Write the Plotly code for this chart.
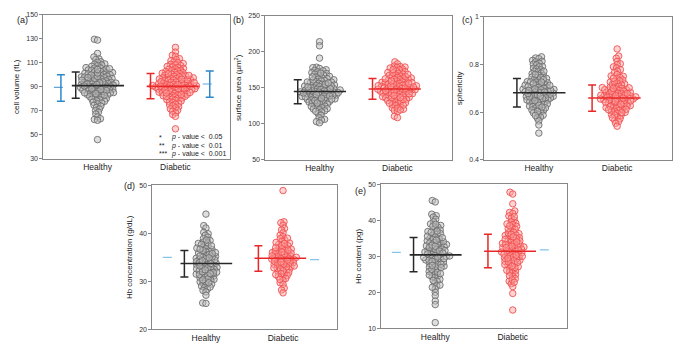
import math
import plotly.graph_objects as go

W, H = 692, 349
FONT = "Liberation Sans, Arial, sans-serif"

groups = ["Healthy", "Diabetic"]

# ---------------- per-cell measurements ----------------
vol_healthy = [129.6, 128.9, 117.8, 114.9, 113.2, 112.7, 110.9, 110.4, 109.1, 108.8, 108.2, 107.5,
               107.1, 106.0, 105.7, 105.6, 104.9, 104.1, 103.8, 103.3, 102.9, 102.4, 101.9, 101.7,
               101.2, 100.8, 100.3, 100.1, 99.6, 99.4, 98.9, 98.3, 98.1, 97.6, 97.2, 97.0, 96.4,
               96.1, 95.8, 95.2, 95.0, 94.6, 94.3, 93.7, 93.5, 93.1, 92.8, 92.6, 92.0, 91.7, 91.4,
               91.1, 90.6, 90.3, 90.1, 89.8, 89.3, 89.0, 88.7, 88.2, 88.0, 87.5, 87.3, 86.8, 86.4,
               86.1, 85.7, 85.2, 84.8, 84.6, 84.0, 83.6, 83.2, 82.7, 82.4, 81.8, 81.3, 80.9, 80.2,
               79.7, 79.1, 78.4, 77.9, 77.2, 76.5, 75.8, 74.6, 73.9, 72.8, 71.5, 70.2, 68.9, 67.3,
               65.0, 63.4, 62.8, 62.1, 46.0, 94.0, 92.3, 90.8, 89.6, 88.5, 96.9, 98.6, 86.9, 85.0,
               99.9, 101.5, 84.3, 93.3, 91.9, 87.7, 95.5, 83.0, 104.5, 97.8, 105.1]
vol_diabetic = [122.8, 118.9, 116.3, 115.4, 113.5, 112.6, 111.8, 110.7, 110.2, 109.4, 108.7, 108.3,
                107.6, 107.0, 106.5, 106.1, 105.3, 104.9, 104.6, 103.8, 103.5, 103.1, 102.7, 102.0,
                101.8, 101.3, 100.9, 100.5, 100.0, 99.7, 99.3, 99.0, 98.6, 98.2, 97.9, 97.4, 97.1,
                96.8, 96.5, 96.0, 95.7, 95.3, 95.1, 94.8, 94.4, 94.0, 93.8, 93.3, 93.0, 92.7, 92.4,
                92.1, 91.9, 91.5, 91.2, 90.8, 90.6, 90.3, 90.0, 89.7, 89.4, 89.1, 88.8, 88.4, 88.1,
                87.9, 87.6, 87.2, 86.9, 86.5, 86.2, 85.8, 85.5, 85.1, 84.7, 84.4, 84.0, 83.7, 83.2,
                82.8, 82.5, 82.0, 81.6, 81.1, 80.7, 80.3, 79.8, 79.2, 78.7, 78.1, 77.5, 76.9, 76.2,
                75.6, 74.8, 74.1, 73.3, 72.5, 71.6, 70.4, 69.6, 68.3, 66.9, 65.4, 55.0, 91.0, 89.9,
                88.9, 92.9, 94.2, 95.9, 86.7, 85.3, 97.5, 99.5, 83.5, 90.5, 87.4, 93.6, 101.0, 81.9,
                96.3, 88.6, 91.7, 84.9]

area_healthy = [214.0, 208.3, 191.2, 178.6, 177.9, 176.8, 175.1, 174.3, 173.6, 172.2, 171.0, 169.8,
                168.9, 167.7, 166.5, 165.8, 164.6, 163.9, 162.8, 162.0, 161.1, 160.3, 159.5, 158.6,
                157.9, 157.0, 156.2, 155.6, 154.7, 153.9, 153.2, 152.4, 151.7, 150.9, 150.2, 149.6,
                148.9, 148.1, 147.5, 146.8, 146.2, 145.5, 144.9, 144.3, 143.6, 143.0, 142.4, 141.7,
                141.1, 140.5, 139.8, 139.2, 138.5, 137.9, 137.2, 136.6, 135.9, 135.2, 134.6, 133.8,
                133.1, 132.4, 131.6, 130.9, 130.1, 129.2, 128.4, 127.5, 126.6, 125.7, 124.6, 123.5,
                122.3, 121.0, 119.6, 118.1, 116.4, 114.2, 112.0, 108.3, 106.2, 105.1, 103.0, 101.4,
                150.5, 147.0, 145.8, 144.0, 141.9, 139.5, 137.5, 142.8, 146.5, 152.8, 155.0, 158.0,
                135.5, 132.0, 128.9, 140.8, 148.5, 143.3, 138.8, 151.2, 160.8, 165.2, 170.4, 124.0,
                120.5, 117.3, 134.2, 156.8]
area_diabetic = [186.0, 183.2, 180.1, 179.4, 178.8, 178.2, 177.5, 176.0, 174.8, 173.5, 172.6, 171.3,
                 170.2, 169.1, 168.0, 167.2, 166.1, 165.3, 164.4, 163.6, 162.8, 162.0, 161.2, 160.5,
                 159.7, 159.0, 158.3, 157.6, 156.9, 156.1, 155.4, 154.8, 154.1, 153.4, 152.8, 152.1,
                 151.5, 150.8, 150.2, 149.6, 149.0, 148.4, 147.8, 147.1, 146.5, 145.9, 145.2, 144.6,
                 143.9, 143.2, 142.6, 141.9, 141.2, 140.5, 139.8, 139.0, 138.3, 137.5, 136.7, 135.9,
                 135.0, 134.1, 133.2, 132.3, 131.3, 130.2, 129.1, 127.9, 126.6, 125.2, 123.8, 122.1,
                 120.3, 118.6, 116.9, 110.5, 108.6, 150.5, 148.0, 146.0, 153.0, 157.2, 161.8, 144.4,
                 141.6, 138.9, 155.7, 165.8, 170.8, 135.6, 130.7, 128.5, 142.2, 147.3, 152.6, 159.4,
                 162.4, 125.8, 121.5, 133.8, 175.3, 168.6, 145.6, 151.1, 149.4, 156.4, 139.4, 136.3,
                 119.2]

spher_healthy = [0.832, 0.827, 0.824, 0.817, 0.813, 0.811, 0.805, 0.801, 0.798, 0.792, 0.790, 0.784,
                 0.781, 0.777, 0.771, 0.769, 0.763, 0.761, 0.755, 0.753, 0.747, 0.744, 0.741, 0.736,
                 0.734, 0.728, 0.726, 0.723, 0.718, 0.716, 0.711, 0.710, 0.705, 0.704, 0.700, 0.696,
                 0.695, 0.690, 0.689, 0.686, 0.682, 0.680, 0.676, 0.674, 0.671, 0.666, 0.665, 0.660,
                 0.659, 0.655, 0.651, 0.650, 0.645, 0.644, 0.639, 0.637, 0.632, 0.631, 0.625, 0.623,
                 0.617, 0.615, 0.609, 0.607, 0.600, 0.597, 0.590, 0.587, 0.579, 0.575, 0.563, 0.546,
                 0.512, 0.702, 0.688, 0.675, 0.661, 0.694, 0.713, 0.727, 0.745, 0.654, 0.642, 0.629,
                 0.681, 0.669, 0.708, 0.719, 0.737, 0.758, 0.771, 0.634, 0.618, 0.603, 0.586, 0.692,
                 0.684, 0.673, 0.664, 0.648, 0.698, 0.712, 0.726, 0.678, 0.657, 0.691, 0.667, 0.621]
spher_diabetic = [0.865, 0.835, 0.826, 0.813, 0.803, 0.799, 0.790, 0.785, 0.778, 0.772, 0.766, 0.758,
                  0.752, 0.750, 0.745, 0.740, 0.735, 0.731, 0.726, 0.722, 0.718, 0.714, 0.710, 0.707,
                  0.703, 0.700, 0.697, 0.694, 0.691, 0.688, 0.685, 0.682, 0.679, 0.677, 0.674, 0.671,
                  0.668, 0.666, 0.663, 0.660, 0.658, 0.655, 0.652, 0.650, 0.647, 0.644, 0.642, 0.639,
                  0.636, 0.633, 0.630, 0.627, 0.624, 0.621, 0.618, 0.615, 0.611, 0.607, 0.603, 0.599,
                  0.595, 0.590, 0.585, 0.579, 0.572, 0.566, 0.560, 0.553, 0.541, 0.668, 0.657, 0.646,
                  0.675, 0.683, 0.692, 0.705, 0.716, 0.638, 0.626, 0.612, 0.598, 0.662, 0.651, 0.671,
                  0.687, 0.699, 0.729, 0.742, 0.633, 0.619, 0.605, 0.588, 0.576, 0.655, 0.664, 0.679,
                  0.641, 0.624, 0.610, 0.702, 0.694, 0.659, 0.647, 0.669]

hbc_healthy = [44.0, 41.6, 41.1, 40.2, 39.9, 39.6, 39.2, 38.9, 38.5, 38.2, 37.9, 37.6, 37.3, 37.1,
               36.8, 36.6, 36.3, 36.1, 35.9, 35.7, 35.4, 35.2, 35.0, 34.8, 34.6, 34.4, 34.2, 34.0,
               33.8, 33.6, 33.5, 33.3, 33.1, 32.9, 32.7, 32.5, 32.3, 32.1, 31.9, 31.7, 31.5, 31.3,
               31.1, 30.9, 30.7, 30.4, 30.2, 29.9, 29.6, 29.3, 29.0, 28.7, 28.4, 28.1, 27.8, 27.1,
               25.5, 25.4, 33.4, 33.0, 32.6, 34.1, 34.5, 35.1, 35.6, 36.0, 36.9, 37.7, 38.0, 32.2,
               31.8, 31.4, 30.8, 30.0, 29.4, 33.9, 34.7, 35.3, 32.8, 31.2, 30.5, 36.4, 37.4, 38.6,
               33.2, 34.3, 32.0, 28.8, 31.6, 35.8, 33.7, 32.4, 29.7, 36.7, 34.9, 30.3]
hbc_diabetic = [48.9, 42.4, 42.2, 41.7, 41.0, 40.7, 40.1, 39.6, 39.3, 38.9, 38.6, 38.3, 38.0, 37.7,
                37.4, 37.2, 36.9, 36.7, 36.4, 36.2, 36.0, 35.8, 35.6, 35.4, 35.2, 35.0, 34.8, 34.6,
                34.5, 34.3, 34.1, 33.9, 33.7, 33.5, 33.3, 33.1, 32.9, 32.7, 32.5, 32.3, 32.0, 31.8,
                31.5, 31.2, 30.9, 30.6, 30.2, 29.7, 29.4, 28.6, 28.2, 27.6, 34.6, 34.9, 35.1, 35.5,
                35.9, 36.3, 36.8, 37.5, 38.1, 34.2, 33.8, 33.4, 33.0, 32.6, 32.2, 31.6, 31.0, 35.3,
                35.7, 36.1, 34.4, 33.6, 37.0, 37.9, 34.7, 35.0, 32.8, 31.4, 39.0, 36.5, 33.2, 34.0,
                30.4]

hb_healthy = [45.5, 45.1, 41.7, 41.3, 40.9, 40.3, 39.6, 39.0, 38.6, 38.1, 37.7, 37.3, 36.9, 36.5,
              36.1, 35.8, 35.4, 35.0, 34.7, 34.3, 34.0, 33.7, 33.3, 33.0, 32.7, 32.4, 32.0, 31.7,
              31.4, 31.1, 30.8, 30.5, 30.2, 29.9, 29.6, 29.3, 29.0, 28.7, 28.3, 28.0, 27.7, 27.3,
              27.0, 26.6, 26.2, 25.8, 25.4, 25.0, 24.6, 24.1, 23.6, 23.1, 22.5, 21.8, 21.0, 20.0,
              19.1, 17.6, 16.6, 11.6, 30.4, 30.0, 29.7, 31.2, 31.6, 32.2, 32.9, 33.5, 34.1, 34.9,
              35.6, 36.3, 28.9, 28.4, 27.8, 27.1, 26.4, 25.6, 30.7, 29.4, 31.9, 33.8, 35.2, 37.0,
              38.4, 24.3, 23.3, 22.0, 30.1, 29.2, 32.5, 28.6, 26.9, 31.5, 33.1, 34.5, 27.5, 25.2,
              36.7, 30.9, 29.8, 32.8, 21.4, 38.9, 24.8]
hb_diabetic = [47.8, 47.3, 44.6, 42.6, 42.2, 41.9, 41.2, 40.6, 40.1, 39.6, 39.2, 38.8, 38.3, 37.9,
               37.5, 37.1, 36.7, 36.3, 35.9, 35.6, 35.2, 34.9, 34.5, 34.2, 33.9, 33.5, 33.2, 32.9,
               32.6, 32.3, 32.0, 31.7, 31.4, 31.1, 30.8, 30.5, 30.2, 29.9, 29.6, 29.2, 28.9, 28.6,
               28.2, 27.9, 27.5, 27.1, 26.7, 26.3, 25.9, 25.4, 24.9, 24.4, 23.8, 23.1, 22.4, 21.6,
               19.7, 15.1, 31.5, 31.2, 30.9, 30.6, 32.1, 32.5, 33.0, 33.6, 34.3, 35.0, 35.8, 36.5,
               29.8, 29.3, 28.8, 28.3, 27.7, 26.9, 31.8, 30.3, 32.8, 34.7, 36.1, 37.7, 39.0, 25.6,
               24.6, 23.5, 31.0, 30.0, 33.3, 28.5, 27.3, 32.4, 34.0, 35.4, 26.1, 38.5, 41.0, 22.8,
               29.5]

# ---------------- group summaries: mean, lower, upper ----------------
vol_summary = [(91.0, 80.5, 102.4), (90.4, 80.0, 101.0)]
area_summary = [(144.8, 128.0, 161.2), (148.4, 134.0, 162.9)]
spher_summary = [(0.681, 0.622, 0.741), (0.659, 0.604, 0.714)]
hbc_summary = [(33.7, 30.9, 36.4), (34.8, 32.1, 37.4)]
hb_summary = [(30.4, 25.7, 35.2), (31.4, 26.8, 36.1)]

# reference values (blue): (mean, lower, upper) -- lower/upper None when only the mean is shown
vol_reference = [(89.5, 78.0, 100.0), (92.3, 81.4, 103.2)]
hbc_reference = [(35.0, None, None), (34.5, None, None)]
hb_reference = [(31.1, None, None), (31.8, None, None)]

p_legend = [("*", "0.05"), ("**", "0.01"), ("***", "0.001")]

# ---------------- panel layout (pixel boxes) ----------------
panels = [
    dict(tag="(a)", box=(43, 230, 11, 158), yr=(30, 150), ticks=[30, 50, 70, 90, 110, 130, 150],
         title="cell volume (fL)", data=(vol_healthy, vol_diabetic), summ=vol_summary,
         ref=vol_reference, ref_style="bar", label_xy=(22, 16)),
    dict(tag="(b)", box=(265, 452, 12, 159), yr=(50, 250), ticks=[50, 100, 150, 200, 250],
         title="surface area (µm<sup>2</sup>)", data=(area_healthy, area_diabetic), summ=area_summary,
         ref=None, ref_style=None, label_xy=(238, 16)),
    dict(tag="(c)", box=(484, 672, 13, 159), yr=(0.4, 1.0), ticks=[0.4, 0.6, 0.8, 1.0],
         ticktext=["0.4", "0.6", "0.8", "1"],
         title="sphericity", data=(spher_healthy, spher_diabetic), summ=spher_summary,
         ref=None, ref_style=None, label_xy=(467, 16)),
    dict(tag="(d)", box=(152, 337, 185, 332), yr=(20, 50), ticks=[20, 30, 40, 50],
         title="Hb concentration (g/dL)", data=(hbc_healthy, hbc_diabetic), summ=hbc_summary,
         ref=hbc_reference, ref_style="dash", label_xy=(129, 186)),
    dict(tag="(e)", box=(381, 567, 184, 331), yr=(10, 50), ticks=[10, 20, 30, 40, 50],
         title="Hb content (pg)", data=(hb_healthy, hb_diabetic), summ=hb_summary,
         ref=hb_reference, ref_style="dash", label_xy=(360, 191)),
]

XR = (0.3, 2.7)
POS = [1, 2]
GROUP_FILL = ["rgba(190,190,190,0.5)", "rgba(255,160,160,0.45)"]
GROUP_EDGE = ["rgb(110,110,110)", "rgb(240,80,80)"]
GROUP_LINE = ["rgb(40,40,40)", "rgb(232,40,40)"]
MEAN_SPAN = [(0.67, 1.34), (1.63, 2.30)]
BAR_X = [0.72, 1.68]
REF_X = [0.53, 2.44]
REF_SPAN = [(0.44, 0.62), (2.35, 2.54)]
MARKER = 6.5
SPACING = 3.3


def swarm(values, sx, sy, d):
    """Beeswarm offsets (in x data units) so that markers spaced d px apart do not pile up."""
    order = sorted(range(len(values)), key=lambda i: values[i])
    placed = []
    offsets = [0.0] * len(values)
    for i in order:
        yp = values[i] * sy
        cands = [0.0]
        for xp, ypp in placed:
            dy = yp - ypp
            if abs(dy) < d:
                dx = math.sqrt(d * d - dy * dy)
                cands.append(xp + dx)
                cands.append(xp - dx)
        cands.sort(key=lambda c: (abs(c), c))
        chosen = 0.0
        for c in cands:
            if all((c - xp) ** 2 + (yp - ypp) ** 2 >= d * d - 1e-6 for xp, ypp in placed):
                chosen = c
                break
        placed.append((chosen, yp))
        offsets[i] = chosen / sx
    return offsets


fig = go.Figure()
layout = {}
annotations = []

for k, p in enumerate(panels):
    n = "" if k == 0 else str(k + 1)
    xa, ya = "x" + n, "y" + n
    x0, x1, y0, y1 = p["box"]
    sx = (x1 - x0) / (XR[1] - XR[0])
    sy = (y1 - y0) / (p["yr"][1] - p["yr"][0])

    for g in range(2):
        vals = p["data"][g]
        off = swarm(vals, sx, sy, SPACING)
        fig.add_trace(go.Scatter(
            x=[POS[g] + o for o in off], y=vals, xaxis=xa, yaxis=ya, mode="markers",
            marker=dict(size=MARKER, color=GROUP_FILL[g], line=dict(color=GROUP_EDGE[g], width=0.9)),
            hoverinfo="y", showlegend=False))

    for g in range(2):
        m, lo, hi = p["summ"][g]
        fig.add_trace(go.Scatter(
            x=list(MEAN_SPAN[g]), y=[m, m], xaxis=xa, yaxis=ya, mode="lines",
            line=dict(color=GROUP_LINE[g], width=1.6), showlegend=False, hoverinfo="skip"))
        fig.add_trace(go.Scatter(
            x=[BAR_X[g]], y=[m], xaxis=xa, yaxis=ya, mode="markers",
            marker=dict(size=1, opacity=0),
            error_y=dict(type="data", symmetric=False, array=[hi - m], arrayminus=[m - lo],
                         width=4, thickness=1.5, color=GROUP_LINE[g]),
            showlegend=False, hoverinfo="skip"))

    if p["ref"]:
        for g in range(2):
            m, lo, hi = p["ref"][g]
            if p["ref_style"] == "bar":
                fig.add_trace(go.Scatter(
                    x=list(REF_SPAN[g]), y=[m, m], xaxis=xa, yaxis=ya, mode="lines",
                    line=dict(color="rgb(95,165,220)", width=1.1, dash="dash"),
                    showlegend=False, hoverinfo="skip"))
                fig.add_trace(go.Scatter(
                    x=[REF_X[g]], y=[m], xaxis=xa, yaxis=ya, mode="markers",
                    marker=dict(size=1, opacity=0),
                    error_y=dict(type="data", symmetric=False, array=[hi - m], arrayminus=[m - lo],
                                 width=4, thickness=1.5, color="rgb(45,135,200)"),
                    showlegend=False, hoverinfo="skip"))
            else:
                fig.add_trace(go.Scatter(
                    x=list(REF_SPAN[g]), y=[m, m], xaxis=xa, yaxis=ya, mode="lines",
                    line=dict(color="rgb(135,195,232)", width=1.3, dash="dash"),
                    showlegend=False, hoverinfo="skip"))

    axis_line = dict(showline=True, mirror=True, linecolor="rgb(135,135,135)", linewidth=1.2,
                     showgrid=False, zeroline=False)
    layout["xaxis" + n] = dict(
        domain=[x0 / W, x1 / W], range=list(XR), anchor=ya, tickvals=POS, ticktext=groups,
        ticks="", tickfont=dict(size=8.5, color="#222", family=FONT), fixedrange=True, **axis_line)
    layout["yaxis" + n] = dict(
        domain=[1 - y1 / H, 1 - y0 / H], range=list(p["yr"]), anchor=xa, tickvals=p["ticks"],
        ticktext=p.get("ticktext", [str(t) for t in p["ticks"]]),
        ticks="outside", ticklen=2.5, tickcolor="rgb(135,135,135)", tickwidth=1,
        tickfont=dict(size=7, color="#333", family=FONT),
        title=dict(text=p["title"], font=dict(size=8, color="#222", family=FONT), standoff=5),
        fixedrange=True, **axis_line)

    lx, ly = p["label_xy"]
    annotations.append(dict(text=p["tag"], x=lx / W, y=1 - ly / H, xref="paper", yref="paper",
                            showarrow=False, xanchor="center", yanchor="middle",
                            font=dict(size=9, color="#222", family=FONT)))

# significance key inside panel (a)
for i, (stars, thr) in enumerate(p_legend):
    yy = 1 - (136 + 8.5 * i) / H
    annotations.append(dict(text=stars, x=157 / W, y=yy, xref="paper", yref="paper",
                            showarrow=False, xanchor="left", yanchor="middle",
                            font=dict(size=7, color="#222", family=FONT)))
    annotations.append(dict(text="<i>p</i> - value &lt;  " + thr, x=169 / W, y=yy,
                            xref="paper", yref="paper", showarrow=False,
                            xanchor="left", yanchor="middle",
                            font=dict(size=7, color="#222", family=FONT)))

fig.update_layout(
    width=W, height=H, margin=dict(l=0, r=0, t=0, b=0),
    paper_bgcolor="white", plot_bgcolor="white",
    font=dict(family=FONT), annotations=annotations, showlegend=False, **layout)

fig.write_html("out.html")
